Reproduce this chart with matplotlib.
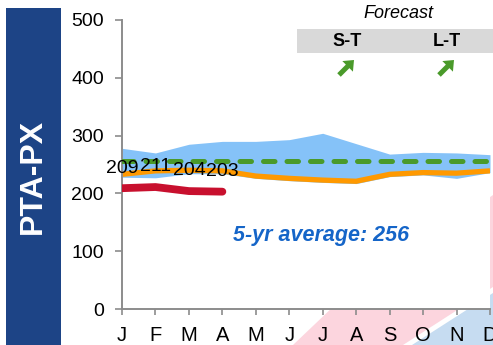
import matplotlib
matplotlib.use("Agg")
import matplotlib.pyplot as plt
from matplotlib.patches import Rectangle, Polygon, FancyArrow
from matplotlib.transforms import Affine2D

months = ["J", "F", "M", "A", "M", "J", "J", "A", "S", "O", "N", "D"]
range_upper = [278, 270, 285, 290, 290, 293, 304, 286, 268, 271, 270, 267]
range_lower = [228, 227, 234, 234, 226, 222, 219, 217, 229, 232, 226, 236]
last_year = [233, 239, 240, 239, 230, 226, 223, 221, 233, 236, 235, 239]
five_yr_avg = [256] * 12
current = [209, 211, 204, 203]
current_labels = ["209", "211", "204", "203"]
avg_text = "5-yr average: 256"
y_ticks = [0, 100, 200, 300, 400, 500]

W, H = 493, 345
plt.rcParams['font.family'] = ['Liberation Sans', 'DejaVu Sans']
fig = plt.figure(figsize=(W / 100, H / 100), dpi=100)
fig.patch.set_facecolor("white")

# pixel transform (origin top-left)
px = Affine2D().scale(1, -1).translate(0, H) + Affine2D().scale(1 / W, 1 / H) + fig.transFigure

# background decoration (bottom right)
fig.patches.append(Polygon([(293, 345), (335, 305), (493, 195), (493, 287), (403, 345)],
                           closed=True, transform=px, facecolor="#FCD5DE", edgecolor="none", zorder=-2))
fig.patches.append(Polygon([(412, 345), (493, 293), (493, 345)],
                           closed=True, transform=px, facecolor="#C6DCF1", edgecolor="none", zorder=-2))

# left title panel
fig.patches.append(Rectangle((6, 8), 55, 337, transform=px, facecolor="#1D4486",
                             edgecolor="none", zorder=1))
fig.text(33 / W, 1 - 176 / H, "PTA-PX", rotation=90, color="white", fontsize=23,
         fontweight="bold", ha="center", va="center")

ax = fig.add_axes([122 / W, 1 - 309 / H, (490 - 122) / W, (309 - 20) / H])
ax.set_facecolor("white")
x = list(range(12))

ax.fill_between(x, range_lower, range_upper, color="#85C2F8", linewidth=0, zorder=1)
ax.plot(x, last_year, color="#FF9900", lw=3.8, solid_capstyle="butt", zorder=2)
ax.plot(x, five_yr_avg, color="#4A9A2A", lw=3.6, dash_capstyle="round",
        dashes=(2.3, 2.4), zorder=3)
ax.plot(range(len(current)), current, color="#C8102E", lw=5.6, solid_capstyle="round",
        solid_joinstyle="round", zorder=4)
for i, (v, lab) in enumerate(zip(current, current_labels)):
    ax.annotate(lab, (i, v), xytext=(0, 14.5), textcoords="offset points",
                ha="center", va="center", fontsize=14, color="black", zorder=6)

ax.text(5.95, 128, avg_text, color="#1565C8", fontsize=15.5, fontweight="bold",
        fontstyle="italic", ha="center", va="center")

ax.set_xlim(0, 11)
ax.set_ylim(0, 500)
ax.set_yticks(y_ticks)
ax.set_xticks(x)
ax.set_xticklabels(months)
for s in ["top", "right"]:
    ax.spines[s].set_visible(False)
for s in ["left", "bottom"]:
    ax.spines[s].set_color("#8C8C8C")
    ax.spines[s].set_linewidth(1.4)
ax.tick_params(axis="y", length=5, width=1.2, color="#8C8C8C", pad=8, labelsize=14)
ax.tick_params(axis="x", length=4.5, width=1.2, color="#8C8C8C", pad=7.5, labelsize=14.5)

# Forecast box
fig.text(398 / W, 1 - 13 / H, "Forecast", fontsize=13, fontstyle="italic",
         ha="center", va="center")
fig.patches.append(Rectangle((297, 29), 196, 24, transform=px, facecolor="#D9D9D9",
                             edgecolor="none", zorder=5))
fig.text(347 / W, 1 - 41 / H, "S-T", fontsize=13, fontweight="bold", ha="center",
         va="center", zorder=6)
fig.text(447 / W, 1 - 41 / H, "L-T", fontsize=13, fontweight="bold", ha="center",
         va="center", zorder=6)
for cx in (347, 447):
    fig.patches.append(FancyArrow(cx - 8, 75, 15, -15, width=5, head_width=15,
                                  head_length=9, length_includes_head=True,
                                  transform=px, facecolor="#4A9A2A", edgecolor="none",
                                  zorder=6))

fig.savefig("out.png", dpi=100)
